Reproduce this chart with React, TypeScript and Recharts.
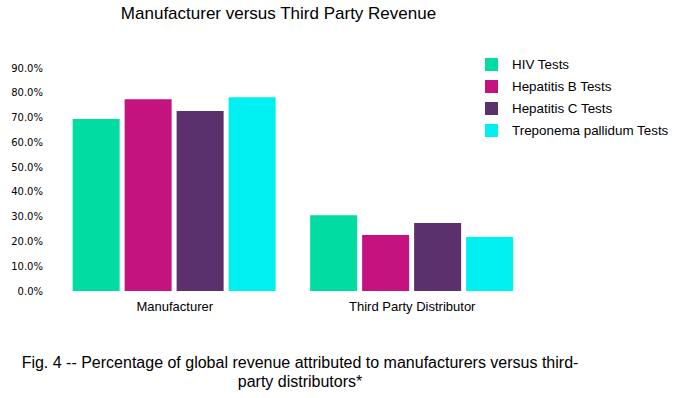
import React from 'react';
import { BarChart, Bar, XAxis, YAxis } from 'recharts';

const categories = ['Manufacturer', 'Third Party Distributor'];
const hivTests = [0.694, 0.306];
const hepatitisBTests = [0.774, 0.226];
const hepatitisCTests = [0.726, 0.274];
const treponemaTests = [0.782, 0.218];
const yTicks = [0, 0.1, 0.2, 0.3, 0.4, 0.5, 0.6, 0.7, 0.8, 0.9];

const seriesNames = ['HIV Tests', 'Hepatitis B Tests', 'Hepatitis C Tests', 'Treponema pallidum Tests'];
const seriesKeys = ['hiv', 'hepB', 'hepC', 'trep'];
const seriesColors = ['#00DCA2', '#C4137F', '#5B316D', '#00F0F2'];

const data = categories.map((c, i) => ({
  name: c,
  hiv: hivTests[i],
  hepB: hepatitisBTests[i],
  hepC: hepatitisCTests[i],
  trep: treponemaTests[i],
}));

export default function App() {
  return (
    <div style={{ position: 'absolute', left: 0, top: 0, width: 675, height: 398, background: '#fff', overflow: 'hidden' }}>
      <div
        style={{
          position: 'absolute',
          left: 0,
          width: 557,
          top: 4,
          textAlign: 'center',
          fontFamily: '"Liberation Sans", Arial, sans-serif',
          fontSize: 17,
          color: '#000',
        }}
      >
        Manufacturer versus Third Party Revenue
      </div>
      <BarChart
        width={675}
        height={398}
        data={data}
        margin={{ top: 68, right: 144, bottom: 77, left: 0 }}
        barCategoryGap="7%"
        barGap={5}
      >
        <XAxis
          dataKey="name"
          axisLine={false}
          tickLine={false}
          tickMargin={5}
          height={30}
          tick={{ fontFamily: '"Liberation Sans", Arial, sans-serif', fontSize: 13, fill: '#000' }}
        />
        <YAxis
          domain={[0, 0.9]}
          ticks={yTicks}
          width={56}
          axisLine={false}
          tickLine={false}
          tickMargin={7}
          interval={0}
          tickFormatter={(v: number) => (v * 100).toFixed(1) + '%'}
          tick={{ fontFamily: '"DejaVu Sans", Verdana, sans-serif', fontSize: 10, fill: '#000' }}
        />
        {seriesKeys.map((k, i) => (
          <Bar key={k} dataKey={k} name={seriesNames[i]} fill={seriesColors[i]} isAnimationActive={false} />
        ))}
      </BarChart>
      <div
        style={{
          position: 'absolute',
          left: 485,
          top: 53,
          fontFamily: '"Liberation Sans", Arial, sans-serif',
          fontSize: 13.4,
          color: '#000',
        }}
      >
        {seriesNames.map((n, i) => (
          <div key={n} style={{ display: 'flex', alignItems: 'center', height: 22 }}>
            <div style={{ width: 13, height: 13, background: seriesColors[i], marginRight: 14 }} />
            <span>{n}</span>
          </div>
        ))}
      </div>
      <div
        style={{
          position: 'absolute',
          left: 0,
          width: 600,
          top: 353,
          textAlign: 'center',
          fontFamily: '"Liberation Sans", Arial, sans-serif',
          fontSize: 16,
          lineHeight: '19px',
          color: '#000',
        }}
      >
        <div>Fig. 4 -- Percentage of global revenue attributed to manufacturers versus third-</div>
        <div>party distributors*</div>
      </div>
    </div>
  );
}
